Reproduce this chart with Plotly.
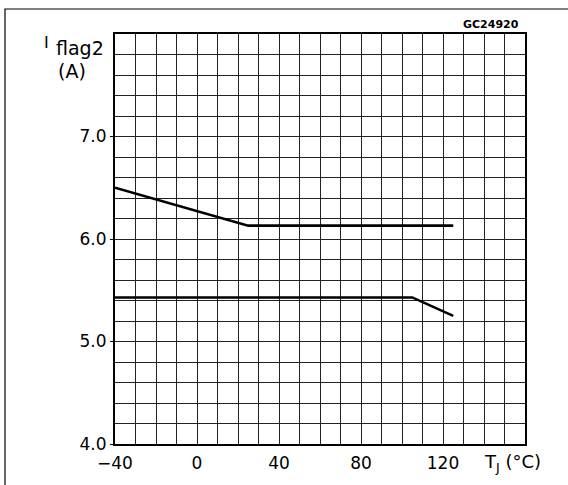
import plotly.graph_objects as go

# Data
tj_upper = [-40, 25, 125]
iflag_upper = [6.50, 6.13, 6.13]
tj_lower = [-40, 105, 125]
iflag_lower = [5.43, 5.43, 5.25]

x_tickvals = [-40, 0, 40, 80, 120]
x_ticktext = ["\u221240", "0", "40", "80", "120"]
y_tickvals = [4.0, 5.0, 6.0, 7.0]
y_ticktext = ["4.0", "5.0", "6.0", "7.0"]

W, H = 568, 485
L, R, T, B = 115, 43, 34, 41
PW, PH = W - L - R, H - T - B

def px(x):
    return (x - L) / PW

def py(y):
    return (H - B - y) / PH

FONT = "DejaVu Sans"
GRID = "#222222"

fig = go.Figure()
fig.add_trace(go.Scatter(x=tj_upper, y=iflag_upper, mode="lines",
                         line=dict(color="black", width=2.6), showlegend=False))
fig.add_trace(go.Scatter(x=tj_lower, y=iflag_lower, mode="lines",
                         line=dict(color="black", width=2.6), showlegend=False))

fig.update_layout(
    width=W, height=H,
    margin=dict(l=L, r=R, t=T, b=B, pad=0),
    paper_bgcolor="white", plot_bgcolor="white",
    font=dict(family=FONT, size=17, color="black"),
    xaxis=dict(range=[-40, 160], tickmode="array", tickvals=x_tickvals, ticktext=x_ticktext,
               showgrid=True, gridcolor=GRID, gridwidth=1,
               minor=dict(tickmode="linear", tick0=-40, dtick=10, showgrid=True,
                          gridcolor=GRID, gridwidth=1),
               showline=True, linecolor="black", linewidth=2, mirror=True,
               ticks="", ticklabelstandoff=3, zeroline=False, tickfont=dict(size=17)),
    yaxis=dict(range=[4.0, 8.0], tickmode="array", tickvals=y_tickvals, ticktext=y_ticktext,
               showgrid=True, gridcolor=GRID, gridwidth=1,
               minor=dict(tickmode="linear", tick0=4.0, dtick=0.2, showgrid=True,
                          gridcolor=GRID, gridwidth=1),
               showline=True, linecolor="black", linewidth=2, mirror=True,
               ticks="outside", ticklen=3, tickcolor="black",
               zeroline=False, tickfont=dict(size=17)),
)

# Outer frame
fig.add_shape(type="rect", xref="paper", yref="paper",
              x0=px(5), x1=px(575), y0=py(495), y1=py(9),
              line=dict(color="black", width=1.2), fillcolor="rgba(0,0,0,0)", layer="below")

fig.add_annotation(xref="paper", yref="paper", x=px(46), y=py(42), xanchor="center", yanchor="middle",
                   text="I", showarrow=False, font=dict(size=16, family=FONT))
fig.add_annotation(xref="paper", yref="paper", x=px(80), y=py(48), xanchor="center", yanchor="middle",
                   text="flag2", showarrow=False, font=dict(size=19, family=FONT))
fig.add_annotation(xref="paper", yref="paper", x=px(72), y=py(71), xanchor="center", yanchor="middle",
                   text="(A)", showarrow=False, font=dict(size=19, family=FONT))
fig.add_annotation(xref="paper", yref="paper", x=px(521), y=py(25), xanchor="right", yanchor="middle",
                   text="<b>GC24920</b>", showarrow=False, font=dict(size=11, family=FONT))
fig.add_annotation(xref="paper", yref="paper", x=px(482), y=py(463), xanchor="left", yanchor="middle",
                   text="T<sub>J</sub> (\u00b0C)", showarrow=False, font=dict(size=18, family=FONT))

fig.write_html("out.html", config={"displayModeBar": False},
               post_script="document.body.style.margin='0';")
